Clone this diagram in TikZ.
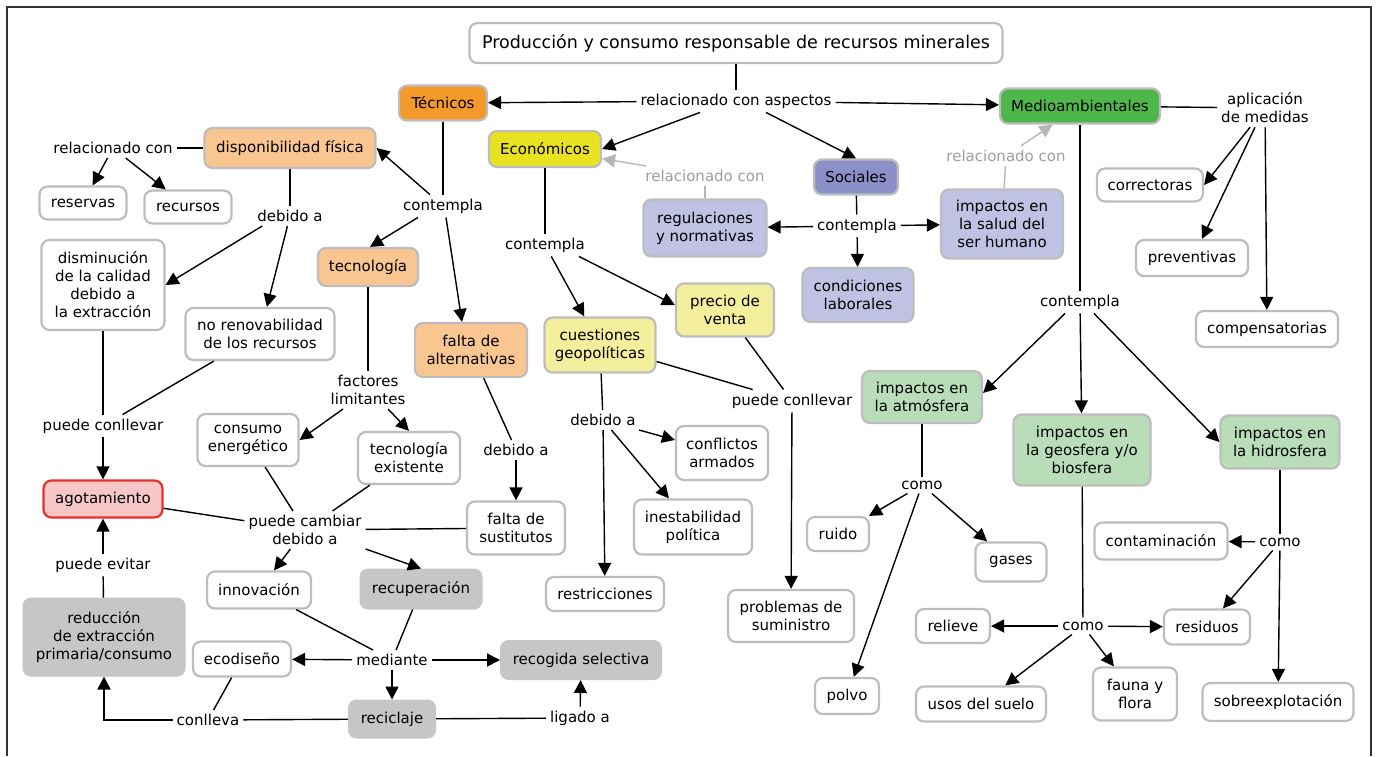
\documentclass[tikz,border=0pt]{standalone}
\usepackage{fontspec}
\setmainfont{DejaVu Sans}
\usetikzlibrary{arrows.meta}
\definecolor{corange}{HTML}{F39A2B}
\definecolor{clorange}{HTML}{F9C590}
\definecolor{cyellow}{HTML}{E8E221}
\definecolor{clyellow}{HTML}{F3EF9C}
\definecolor{cblue}{HTML}{8B91C8}
\definecolor{clblue}{HTML}{BFC2E3}
\definecolor{cgreen}{HTML}{4DB74A}
\definecolor{clgreen}{HTML}{B9DDB9}
\definecolor{cgraybox}{HTML}{C6C6C6}
\definecolor{cborder}{HTML}{BDBDBD}
\definecolor{cpink}{HTML}{F7C6C6}
\definecolor{cred}{HTML}{E8302E}
\definecolor{cgraytext}{HTML}{9E9E9E}
\definecolor{cgrayln}{HTML}{B5B5B5}
\tikzset{
  base/.style={font=\fontsize{15}{18}\selectfont, align=center, inner sep=2pt},
  wbox/.style={base, rectangle, rounded corners=8pt, draw=cborder, line width=2.2pt, fill=white},
  cbox/.style={base, rectangle, rounded corners=8pt, draw=cborder, line width=2.2pt},
  gbox/.style={base, rectangle, rounded corners=8pt, fill=cgraybox, draw=cgraybox, line width=1pt},
  abox/.style={base, rectangle, rounded corners=8pt, fill=cpink, draw=cred, line width=2.2pt},
  lbl/.style={base, inner sep=4pt},
  ln/.style={line width=1.4pt, draw=black},
  arr/.style={line width=1.4pt, -{Triangle[length=13pt,width=13pt]}},
}
\begin{document}
\begin{tikzpicture}[x=1pt,y=-1pt]
\useasboundingbox (0,0) rectangle (1378,756);
\draw[line width=1.6pt, black!80] (7,756) -- (7,7) -- (1371,7) -- (1371,756);

% top
\node[wbox, minimum width=533, minimum height=40, font=\fontsize{17.5}{20}\selectfont] (title) at (736,43) {Producción y consumo responsable de recursos minerales};
\node[lbl] (rca) at (736,101) {relacionado con aspectos};
\node[cbox, fill=corange, minimum width=88, minimum height=35] (tec) at (443,103) {Técnicos};
\node[cbox, fill=cgreen, minimum width=160, minimum height=35] (med) at (1080,106) {Medioambientales};
\node[cbox, fill=cyellow, minimum width=112, minimum height=36] (eco) at (545,149) {Económicos};
\node[cbox, fill=cblue, minimum width=84, minimum height=35] (soc) at (856,177) {Sociales};
\draw[ln] (title) -- (rca);
\draw[arr] (rca) -- (tec);
\draw[arr] (rca) -- (med);
\draw[arr] ([xshift=-36pt]rca.south) -- (eco.east);
\draw[arr] ([xshift=30pt]rca.south) -- (soc.north);

% tecnicos
\node[cbox, fill=clorange, minimum width=171, minimum height=40] (disp) at (290,148) {disponibilidad física};
\node[lbl] (rc1) at (113,148) {relacionado con};
\node[wbox, minimum width=87, minimum height=33] (res) at (83,203) {reservas};
\node[wbox, minimum width=87, minimum height=33] (rec) at (188,207) {recursos};
\draw[ln] (disp) -- (rc1);
\draw[arr] (rc1) -- (res);
\draw[arr] (rc1) -- (rec);
\node[lbl] (tcon) at (443,206) {contempla};
\node[cbox, fill=clorange, minimum width=100, minimum height=38] (tecn) at (368,267) {tecnología};
\node[cbox, fill=clorange, minimum width=112, minimum height=54] (falt) at (471,350) {falta de\\alternativas};
\draw[ln] (tec) -- (tcon);
\draw[arr] (tcon) -- (disp.east);
\draw[arr] ([xshift=-25pt]tcon.south) -- ([xshift=2pt]tecn.north);
\draw[arr] ([xshift=3pt]tcon.south) -- ([xshift=-9pt]falt.north);
\node[lbl] (deb1) at (290,216) {debido a};
\draw[ln] (disp) -- (deb1);
\node[wbox, minimum width=123, minimum height=90] (dism) at (103,285) {disminución\\de la calidad\\debido a\\la extracción};
\node[wbox, minimum width=149, minimum height=52] (norenov) at (260,334) {no renovabilidad\\de los recursos};
\draw[arr] ([xshift=9pt]deb1.south west) -- (dism.east);
\draw[arr] (deb1) -- (norenov);
\node[lbl] (fact) at (368,390) {factores\\limitantes};
\draw[ln] (tecn) -- (fact);
\node[wbox, minimum width=101, minimum height=52] (cons) at (248,440) {consumo\\energético};
\node[wbox, minimum width=102, minimum height=52] (texist) at (409,458) {tecnología\\existente};
\draw[arr] ([xshift=-25pt]fact.south) -- (cons.east);
\draw[arr] ([xshift=20pt]fact.south) -- (texist.north);
\node[lbl] (deb2) at (516,450) {debido a};
\draw[ln] (falt) -- (deb2);
\node[wbox, minimum width=98, minimum height=53] (fsust) at (516,528) {falta de\\sustitutos};
\draw[arr] (deb2) -- (fsust);
\node[lbl] (pcl1) at (103,426) {puede conllevar};
\draw[ln] (dism) -- (pcl1);
\draw[ln] (norenov) -- (pcl1);
\node[abox, minimum width=119, minimum height=37] (agot) at (103,499) {agotamiento};
\draw[arr] (pcl1) -- (agot);
\node[lbl] (pcam) at (305,530) {puede cambiar\\debido a};
\draw[ln] (cons) -- (pcam);
\draw[ln] (texist) -- (pcam);
\draw[ln] (agot) -- (pcam);
\draw[ln] (fsust) -- (pcam);
\node[wbox, minimum width=104, minimum height=37] (innov) at (259,590) {innovación};
\node[gbox, minimum width=122, minimum height=40] (recup) at (421,589) {recuperación};
\draw[arr] (pcam) -- (innov);
\draw[arr] (pcam.south east) -- (recup.north);
\node[lbl] (pev) at (103,565) {puede evitar};
\draw[arr] (pev) -- (agot);
\node[gbox, minimum width=162, minimum height=78] (redu) at (104,637) {reducción\\de extracción\\primaria/consumo};
\draw[ln] (redu) -- (pev);
\node[wbox, minimum width=98, minimum height=35] (ecod) at (242,659) {ecodiseño};
\node[lbl] (medi) at (392,660) {mediante};
\node[gbox, minimum width=87, minimum height=38] (recic) at (392,719) {reciclaje};
\node[gbox, minimum width=161, minimum height=39] (recog) at (581,660) {recogida selectiva};
\draw[arr] (medi) -- (ecod);
\draw[arr] (medi) -- (recic);
\draw[arr] (medi) -- (recog);
\draw[ln] (innov) -- (medi);
\draw[ln] (recup) -- (medi);
\node[lbl] (conl) at (208,720) {conlleva};
\draw[ln] (ecod) -- (conl);
\draw[ln] (recic) -- (conl);
\draw[arr] (conl.west) -| (redu.south);
\node[lbl] (lig) at (580,718) {ligado a};
\draw[ln] (recic) -- (lig);
\draw[arr] (lig) -- (recog);

% economicos
\node[lbl] (econ) at (545,245) {contempla};
\draw[ln] (eco) -- (econ);
\node[cbox, fill=clyellow, minimum width=111, minimum height=55] (cgeo) at (600,345) {cuestiones\\geopolíticas};
\node[cbox, fill=clyellow, minimum width=98, minimum height=53] (prec) at (725,310) {precio de\\venta};
\draw[arr] (econ) -- (cgeo);
\draw[arr] ([xshift=-10pt]econ.south east) -- ([yshift=5pt]prec.west);
\node[lbl] (pcl2) at (792,401) {puede conllevar};
\draw[ln] (cgeo) -- (pcl2);
\draw[ln] (prec) -- (pcl2);
\node[wbox, minimum width=126, minimum height=52] (prob) at (791,616) {problemas de\\suministro};
\draw[arr] (pcl2) -- (prob);
\node[lbl] (deb3) at (603,420) {debido a};
\draw[ln] (cgeo) -- (deb3);
\node[wbox, minimum width=92, minimum height=54] (conf) at (722,453) {conflictos\\armados};
\node[wbox, minimum width=118, minimum height=55] (inest) at (693,527) {inestabilidad\\política};
\node[wbox, minimum width=118, minimum height=34] (restr) at (605,594) {restricciones};
\draw[arr] (deb3) -- (conf);
\draw[arr] (deb3) -- (inest);
\draw[arr] (deb3) -- (restr);
\node[lbl, text=cgraytext] (rc2) at (705,176) {relacionado con};
\node[cbox, fill=clblue, minimum width=123, minimum height=57] (regu) at (705,228) {regulaciones\\y normativas};
\draw[ln, draw=cgrayln] (regu) -- (rc2);
\draw[arr, draw=cgrayln] (rc2) -- (eco);

% sociales
\node[lbl] (scon) at (857,226) {contempla};
\draw[ln] (soc) -- (scon);
\node[cbox, fill=clblue, minimum width=122, minimum height=69] (salud) at (1002,224) {impactos en\\la salud del\\ser humano};
\node[cbox, fill=clblue, minimum width=111, minimum height=54] (condl) at (858,295) {condiciones\\laborales};
\draw[arr] (scon) -- (regu);
\draw[arr] (scon) -- (salud);
\draw[arr] (scon) -- (condl);
\node[lbl, text=cgraytext] (rc3) at (1006,156) {relacionado con};
\draw[ln, draw=cgrayln] (salud) -- (rc3);
\draw[arr, draw=cgrayln] (rc3) -- (med);

% medioambientales
\node[lbl] (apl) at (1265,108) {aplicación\\de medidas};
\draw[ln] (med) -- (apl);
\node[wbox, minimum width=106, minimum height=33] (corr) at (1150,185) {correctoras};
\node[wbox, minimum width=112, minimum height=36] (prev) at (1192,258) {preventivas};
\node[wbox, minimum width=142, minimum height=36] (comp) at (1267,329) {compensatorias};
\draw[arr] ([xshift=-15pt]apl.south) -- (corr.east);
\draw[arr] ([xshift=-10pt]apl.south) -- ([xshift=10pt]prev.north);
\draw[arr] (apl) -- (comp);
\node[lbl] (mcon) at (1080,302) {contempla};
\draw[ln] (med) -- (mcon);
\node[cbox, fill=clgreen, minimum width=120, minimum height=52] (atm) at (922,397) {impactos en\\la atmósfera};
\node[cbox, fill=clgreen, minimum width=137, minimum height=71] (geo) at (1082,450) {impactos en\\la geosfera y/o\\biosfera};
\node[cbox, fill=clgreen, minimum width=119, minimum height=53] (hid) at (1280,442) {impactos en\\la hidrosfera};
\draw[arr] ([xshift=-15pt]mcon.south) -- ([yshift=4pt]atm.east);
\draw[arr] (mcon) -- (geo);
\draw[arr] ([xshift=14pt]mcon.south) -- (hid.west);
\node[lbl] (como1) at (922,485) {como};
\draw[ln] (atm) -- (como1);
\node[wbox, minimum width=62, minimum height=34] (ruido) at (838,534) {ruido};
\node[wbox, minimum width=71, minimum height=39] (gases) at (1011,562) {gases};
\node[wbox, minimum width=64, minimum height=36] (polvo) at (847,696) {polvo};
\draw[arr] (como1) -- (ruido);
\draw[arr] (como1) -- (gases);
\draw[arr] (como1) -- (polvo);
\node[lbl] (como2) at (1083,626) {como};
\draw[ln] (geo) -- (como2);
\node[wbox, minimum width=74, minimum height=34] (relie) at (953,626) {relieve};
\node[wbox, minimum width=86, minimum height=35] (resid) at (1207,627) {residuos};
\node[wbox, minimum width=130, minimum height=35] (usos) at (981,704) {usos del suelo};
\node[wbox, minimum width=84, minimum height=53] (fauna) at (1135,694) {fauna y\\flora};
\draw[arr] (como2) -- (relie);
\draw[arr] (como2) -- (resid);
\draw[arr] (como2) -- (usos);
\draw[arr] (como2) -- (fauna);
\node[lbl] (como3) at (1280,542) {como};
\draw[ln] (hid) -- (como3);
\node[wbox, minimum width=133, minimum height=37] (contam) at (1161,541) {contaminación};
\node[wbox, minimum width=151, minimum height=38] (sobre) at (1278,702) {sobreexplotación};
\draw[arr] (como3) -- (contam);
\draw[arr] (como3) -- (resid);
\draw[arr] (como3) -- (sobre);
\end{tikzpicture}
\end{document}
